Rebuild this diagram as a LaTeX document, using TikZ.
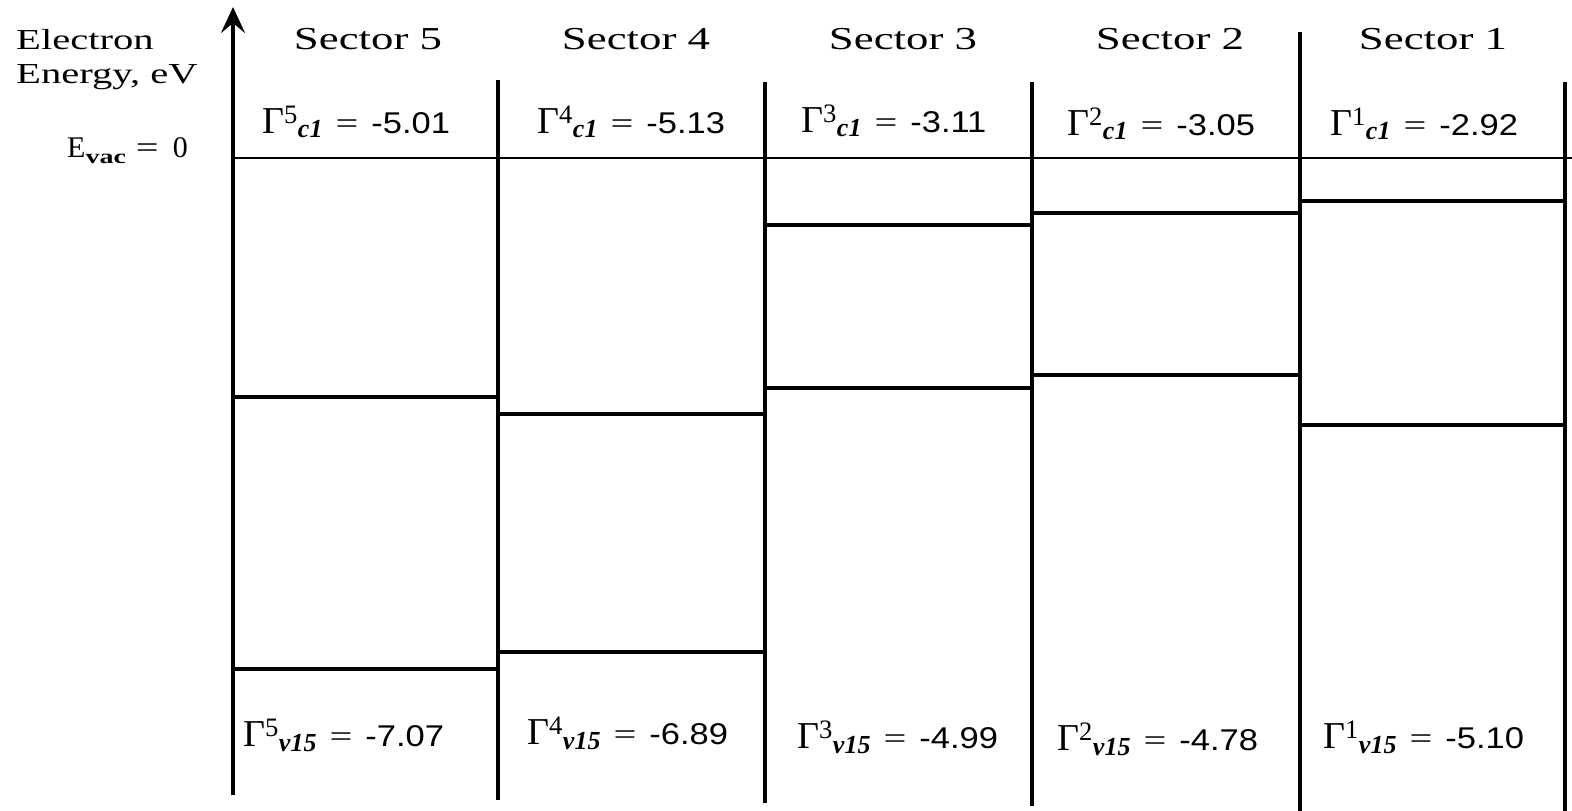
\documentclass[tikz,border=0pt]{standalone}
\usepackage{graphicx}
\usepackage{fontspec}
\setmainfont{Liberation Serif}
\newfontfamily\numfont[FakeStretch=1.15]{Liberation Sans}
\newfontfamily\wideserif[FakeStretch=1.4]{Liberation Serif}
\usetikzlibrary{arrows.meta}
\newcommand\EqSign{{\fontsize{30}{30}\selectfont\scalebox{1.35}[1]{=}}}
\newcommand\GLab[4]{{\fontsize{38}{38}\selectfont Γ\textsuperscript{#1}}\raisebox{#4}{\fontsize{26}{26}\selectfont\bfseries\itshape #2}\hspace{13pt}\EqSign\hspace{13pt}{\numfont\fontsize{30}{30}\selectfont #3}}
\tikzset{
  axisline/.style={line width=4.5pt},
  sepline/.style={line width=4.5pt},
  levelline/.style={line width=3.5pt},
  vacline/.style={line width=1.4pt},
  title/.style={font=\wideserif\fontsize{32}{32}\selectfont, inner sep=0pt, anchor=base},
  ylab/.style={font=\wideserif\fontsize{29}{29}\selectfont, inner sep=0pt, anchor=base west},
  glab/.style={inner sep=0pt, anchor=base west},
}
\begin{document}
\begin{tikzpicture}[x=1pt,y=-1pt]
\useasboundingbox (0,0) rectangle (1572,811);
% axis and separators
\coordinate (a0) at (233,795);
\coordinate (a1) at (233,7);
\draw[axisline,-{Stealth[length=26pt,width=24pt,inset=10pt]}] (a0) -- (a1);
\coordinate (s4t) at (498,80);  \coordinate (s4b) at (498,800);
\coordinate (s3t) at (765,82);  \coordinate (s3b) at (765,803);
\coordinate (s2t) at (1032,82); \coordinate (s2b) at (1032,806);
\coordinate (s1t) at (1300,32); \coordinate (s1b) at (1300,811);
\coordinate (s0t) at (1565,82); \coordinate (s0b) at (1565,811);
\foreach \s in {s4,s3,s2,s1,s0} \draw[sepline] (\s t) -- (\s b);
% vacuum level
\coordinate (v0) at (233,158); \coordinate (v1) at (1572,158);
\draw[vacline] (v0) -- (v1);
% conduction levels
\coordinate (c5a) at (233,397);  \coordinate (c5b) at (498,397);
\coordinate (c4a) at (498,414);  \coordinate (c4b) at (765,414);
\coordinate (c3a) at (765,225);  \coordinate (c3b) at (1032,225);
\coordinate (c2a) at (1032,213); \coordinate (c2b) at (1300,213);
\coordinate (c1a) at (1300,201); \coordinate (c1b) at (1565,201);
% valence levels
\coordinate (w5a) at (233,669);  \coordinate (w5b) at (498,669);
\coordinate (w4a) at (498,652);  \coordinate (w4b) at (765,652);
\coordinate (w3a) at (765,388);  \coordinate (w3b) at (1032,388);
\coordinate (w2a) at (1032,375); \coordinate (w2b) at (1300,375);
\coordinate (w1a) at (1300,425); \coordinate (w1b) at (1565,425);
\foreach \i in {1,...,5} {
  \draw[levelline] (c\i a) -- (c\i b);
  \draw[levelline] (w\i a) -- (w\i b);
}
% axis labels
\node[ylab] (el1) at (16,49) {Electron};
\node[ylab] (el2) at (16,83) {Energy, eV};
\node[glab] (evac) at (67,157) {{\fontsize{30}{30}\selectfont E}\raisebox{-6pt}{\wideserif\fontsize{20}{20}\selectfont\bfseries vac}\hspace{10pt}\EqSign\hspace{14pt}{\fontsize{30}{30}\selectfont 0}};
% sector titles
\node[title] (t5) at (368,49) {Sector 5};
\node[title] (t4) at (636,49) {Sector 4};
\node[title] (t3) at (903,49) {Sector 3};
\node[title] (t2) at (1170,49) {Sector 2};
\node[title] (t1) at (1433,49) {Sector 1};
% conduction labels
\node[glab] (g5c) at (262,133) {\GLab{5}{c1}{-5.01}{-4pt}};
\node[glab] (g4c) at (537,133) {\GLab{4}{c1}{-5.13}{-4pt}};
\node[glab] (g3c) at (801,132) {\GLab{3}{c1}{-3.11}{-4pt}};
\node[glab] (g2c) at (1067,135) {\GLab{2}{c1}{-3.05}{-4pt}};
\node[glab] (g1c) at (1330,135) {\GLab{1}{c1}{-2.92}{-4pt}};
% valence labels
\node[glab] (g5v) at (243,746) {\GLab{5}{v15}{-7.07}{-5pt}};
\node[glab] (g4v) at (527,744) {\GLab{4}{v15}{-6.89}{-5pt}};
\node[glab] (g3v) at (797,748) {\GLab{3}{v15}{-4.99}{-5pt}};
\node[glab] (g2v) at (1057,750) {\GLab{2}{v15}{-4.78}{-5pt}};
\node[glab] (g1v) at (1323,748) {\GLab{1}{v15}{-5.10}{-5pt}};
\end{tikzpicture}
\end{document}
